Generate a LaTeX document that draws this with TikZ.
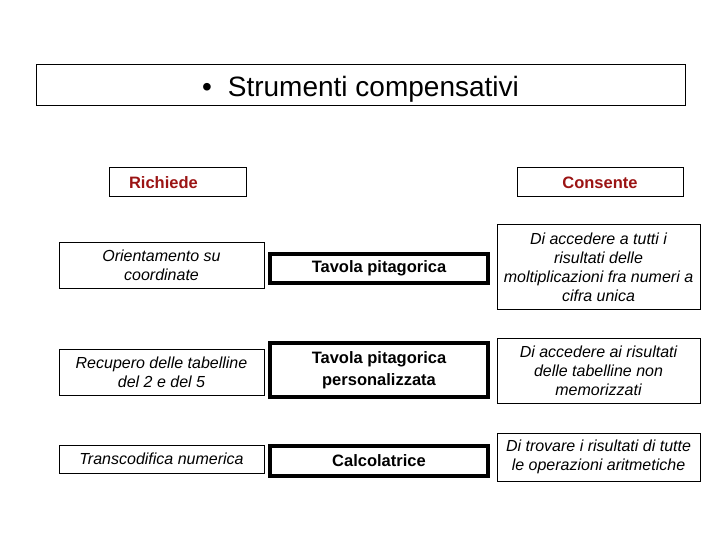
\documentclass[tikz,border=0pt]{standalone}
\usepackage{fontspec}
\setmainfont{Liberation Sans}
\definecolor{hdrred}{RGB}{155,20,20}
\begin{document}
\begin{tikzpicture}[x=1pt,y=-1pt,
  box/.style={draw=black, line width=1pt, inner sep=0pt, align=center},
  titlebox/.style={box, font=\fontsize{28}{32}\selectfont},
  hdrbox/.style={box, text=hdrred, font=\fontsize{16.5}{19}\selectfont\bfseries},
  sidebox/.style={box, font=\fontsize{16}{19}\selectfont\itshape},
  toolbox/.style={box, line width=4pt, font=\fontsize{16.5}{21.5}\selectfont\bfseries}]
\useasboundingbox (0,0) rectangle (720,540);
\node[titlebox, minimum width=649, minimum height=41] (title) at (360.5,85.5) {\raisebox{-4pt}[\height][\depth]{\textbullet\hspace{16pt}Strumenti compensativi}};
\node[hdrbox, minimum width=137, minimum height=29, text width=97pt, align=left, inner xsep=20pt] (rich) at (177.5,182.5) {Richiede};
\node[hdrbox, minimum width=166, minimum height=29] (cons) at (600,182.5) {Consente};
% left column
\node[sidebox, minimum width=205, minimum height=46] (l1) at (161.5,265) {Orientamento su\\coordinate};
\node[sidebox, minimum width=205, minimum height=46] (l2) at (161.5,372) {Recupero delle tabelline\\del 2 e del 5};
\node[sidebox, minimum width=205, minimum height=28] (l3) at (161.5,459) {Transcodifica numerica};
% middle column
\node[toolbox, minimum width=218, minimum height=29] (m1) at (379,268.5) {Tavola pitagorica};
\node[toolbox, minimum width=218, minimum height=54] (m2) at (379,370) {Tavola pitagorica\\personalizzata};
\node[toolbox, minimum width=218, minimum height=30] (m3) at (379,461) {Calcolatrice};
% right column
\node[sidebox, minimum width=203, minimum height=84] (r1) at (598.5,267) {Di accedere a tutti i\\risultati delle\\moltiplicazioni fra numeri a\\cifra unica};
\node[sidebox, minimum width=203, minimum height=65] (r2) at (598.5,370.5) {Di accedere ai risultati\\delle tabelline non\\memorizzati};
\node[sidebox, minimum width=203, minimum height=48] (r3) at (598.5,457) {Di trovare i risultati di tutte\\le operazioni aritmetiche};
\end{tikzpicture}
\end{document}
